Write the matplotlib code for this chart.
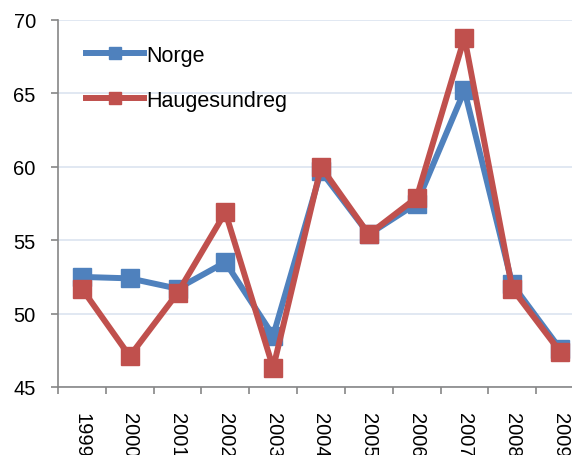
import numpy as np
import matplotlib.pyplot as plt

plt.rcParams['font.family'] = ['Liberation Sans', 'DejaVu Sans']

# Data
years = ['1999', '2000', '2001', '2002', '2003', '2004', '2005', '2006', '2007', '2008', '2009']
norge = [52.5, 52.4, 51.7, 53.5, 48.5, 59.7, 55.4, 57.5, 65.2, 52.0, 47.6]
haugesund = [51.7, 47.1, 51.4, 56.9, 46.3, 60.0, 55.4, 57.9, 68.8, 51.7, 47.4]
yticks = [45, 50, 55, 60, 65, 70]

blue = '#4F81BD'
red = '#C0504D'
axis_gray = '#868686'

fig = plt.figure(figsize=(5.72, 4.56), dpi=100)
ax = fig.add_axes([58 / 572, 68 / 456, 526 / 572, 367 / 456])

x = np.arange(len(years))
ax.plot(x, norge, color=blue, lw=4.3, marker='s', ms=12.5, label='Norge', zorder=3)
ax.plot(x, haugesund, color=red, lw=4.3, marker='s', ms=12.5, label='Haugesundreg', zorder=4)

ax.set_xlim(-0.5, len(years) - 0.5)
ax.set_ylim(45, 70)
ax.set_yticks(yticks)
ax.grid(axis='y', color='#DCE4F0', lw=1.2, zorder=0)

ax.set_xticks(x)
ax.set_xticklabels(years, rotation=-90, fontsize=14.5)
ax.set_xticks(np.arange(len(years) + 1) - 0.5, minor=True)
ax.tick_params(axis='x', which='major', length=0, pad=18)
ax.tick_params(axis='x', which='minor', length=5, color=axis_gray, width=1.2)
ax.tick_params(axis='y', length=5, color=axis_gray, width=1.2, labelsize=14.5, pad=11)

for s in ['top', 'right']:
    ax.spines[s].set_visible(False)
for s in ['left', 'bottom']:
    ax.spines[s].set_color(axis_gray)
    ax.spines[s].set_linewidth(1.2)

ax.legend(loc='upper left', bbox_to_anchor=(0.016, 0.985), frameon=False, fontsize=15.5,
          handlelength=2.7, handletextpad=0.1, labelspacing=1.1, markerscale=0.7)

plt.savefig('out.png', dpi=100)
